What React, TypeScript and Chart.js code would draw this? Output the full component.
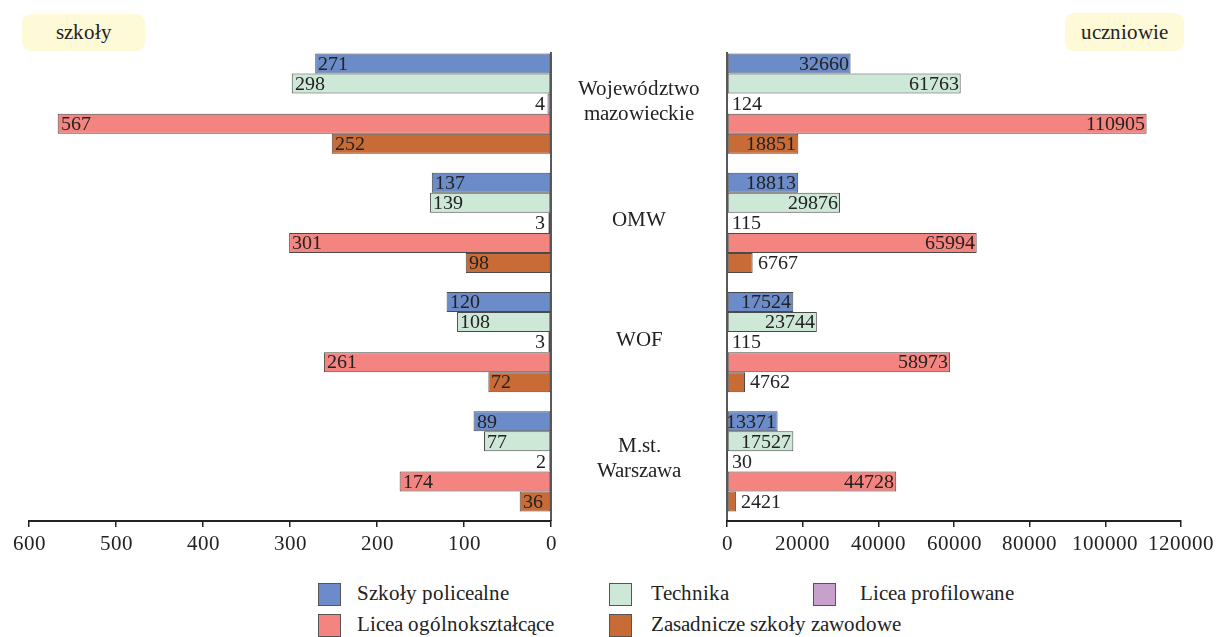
import React, { useEffect, useRef } from "react";
import { Chart, registerables } from "chart.js";

Chart.register(...registerables);

// ---- data ----
const categories: string[][] = [["Województwo", "mazowieckie"], ["OMW"], ["WOF"], ["M.st.", "Warszawa"]];
const seriesNames = [
  "Szkoły policealne",
  "Technika",
  "Licea profilowane",
  "Licea ogólnokształcące",
  "Zasadnicze szkoły zawodowe",
];
const seriesColors = ["#6b8cc9", "#cde8d7", "#c8a0cc", "#f4847f", "#c96b37"];

const szkolyPolicealne = [271, 137, 120, 89];
const szkolyTechnika = [298, 139, 108, 77];
const szkolyLiceaProfilowane = [4, 3, 3, 2];
const szkolyLiceaOgolne = [567, 301, 261, 174];
const szkolyZasadnicze = [252, 98, 72, 36];

const uczniowiePolicealne = [32660, 18813, 17524, 13371];
const uczniowieTechnika = [61763, 29876, 23744, 17527];
const uczniowieLiceaProfilowane = [124, 115, 115, 30];
const uczniowieLiceaOgolne = [110905, 65994, 58973, 44728];
const uczniowieZasadnicze = [18851, 6767, 4762, 2421];

const szkolyMax = 600;
const szkolyStep = 100;
const uczniowieMax = 120000;
const uczniowieStep = 20000;

const leftTitle = "szkoły";
const rightTitle = "uczniowie";

// ---- styles ----
const FONT_FACE_CSS = `@font-face { font-family: "RefSerif"; src: local("Liberation Serif"), local("LiberationSerif"), local("LiberationSerif-Regular"), local("Times New Roman"), local("Tinos"); font-display: swap; }`;
const FAMILY = '"RefSerif", "Liberation Serif", "Times New Roman", Tinos, serif';
const TEXT = "#222222";
const CAT_PCT = 0.8386;

function makeValueLabels(side: "left" | "right") {
  return {
    id: "valueLabels_" + side,
    afterDatasetsDraw(chart: any) {
      const ctx = chart.ctx;
      ctx.save();
      ctx.font = `20px ${FAMILY}`;
      ctx.fillStyle = TEXT;
      ctx.textBaseline = "middle";
      chart.data.datasets.forEach((ds: any, di: number) => {
        const meta = chart.getDatasetMeta(di);
        meta.data.forEach((bar: any, i: number) => {
          const txt = String(ds.data[i]);
          const w = ctx.measureText(txt).width;
          const bw = Math.abs(bar.x - bar.base);
          const inside = bw >= w - 3;
          const y = bar.y + 1;
          if (side === "left") {
            if (inside) {
              ctx.textAlign = "left";
              ctx.fillText(txt, bar.x + 3, y);
            } else {
              ctx.textAlign = "right";
              ctx.fillText(txt, bar.x - 3, y);
            }
          } else {
            if (inside) {
              ctx.textAlign = "right";
              ctx.fillText(txt, bar.x - 2, y);
            } else {
              ctx.textAlign = "left";
              ctx.fillText(txt, bar.x + 5, y);
            }
          }
        });
      });
      ctx.restore();
    },
  };
}

const axisLine = {
  id: "axisLine",
  afterDatasetsDraw(chart: any) {
    const ctx = chart.ctx;
    const x = chart.scales.x.getPixelForValue(0);
    ctx.save();
    ctx.strokeStyle = TEXT;
    ctx.lineWidth = 1.5;
    ctx.beginPath();
    ctx.moveTo(x, chart.chartArea.top + 8);
    ctx.lineTo(x, chart.chartArea.bottom);
    ctx.stroke();
    ctx.restore();
  },
};

const centerLabels = {
  id: "centerLabels",
  afterDraw(chart: any) {
    const ctx = chart.ctx;
    const yScale = chart.scales.y;
    const cx = chart.chartArea.left - 88;
    ctx.save();
    ctx.font = `21px ${FAMILY}`;
    ctx.fillStyle = TEXT;
    ctx.textAlign = "center";
    ctx.textBaseline = "middle";
    (chart.data.labels as any[]).forEach((lab: any, i: number) => {
      const lines: string[] = Array.isArray(lab) ? lab : [lab];
      const y0 = yScale.getPixelForValue(i);
      const lh = 25;
      const start = y0 - ((lines.length - 1) * lh) / 2;
      lines.forEach((ln, k) => ctx.fillText(ln, cx, start + k * lh - 2));
    });
    ctx.restore();
  },
};

function buildDatasets(values: number[][]) {
  return values.map((vals, k) => ({
    label: seriesNames[k],
    data: vals,
    backgroundColor: seriesColors[k],
    borderColor: "#4a4a4a",
    borderWidth: 1,
    borderSkipped: false,
    barPercentage: 1,
    categoryPercentage: CAT_PCT,
  }));
}

function xAxis(max: number, step: number, reverse: boolean) {
  return {
    type: "linear",
    min: 0,
    max,
    reverse,
    afterFit(scale: any) {
      scale.height = 59;
    },
    ticks: {
      stepSize: step,
      color: TEXT,
      font: { family: FAMILY, size: 21 },
      padding: 5,
      maxRotation: 0,
      autoSkip: false,
      callback: (v: any) => String(v),
    },
    grid: {
      display: true,
      drawOnChartArea: false,
      drawTicks: true,
      tickLength: 6,
      color: TEXT,
      lineWidth: 1.5,
    },
    border: { display: true, color: TEXT, width: 2 },
  };
}

export default function App() {
  const leftRef = useRef<HTMLCanvasElement>(null);
  const rightRef = useRef<HTMLCanvasElement>(null);

  useEffect(() => {
    const left = new Chart(leftRef.current as HTMLCanvasElement, {
      type: "bar",
      data: {
        labels: categories as any,
        datasets: buildDatasets([
          szkolyPolicealne,
          szkolyTechnika,
          szkolyLiceaProfilowane,
          szkolyLiceaOgolne,
          szkolyZasadnicze,
        ]) as any,
      },
      options: {
        indexAxis: "y",
        responsive: false,
        animation: false,
        devicePixelRatio: 1,
        layout: { padding: { left: 29, right: 49, top: 44, bottom: 0 } },
        plugins: { legend: { display: false }, tooltip: { enabled: false } },
        scales: {
          x: xAxis(szkolyMax, szkolyStep, true) as any,
          y: { display: false },
        },
      },
      plugins: [axisLine, makeValueLabels("left")],
    });

    const right = new Chart(rightRef.current as HTMLCanvasElement, {
      type: "bar",
      data: {
        labels: categories as any,
        datasets: buildDatasets([
          uczniowiePolicealne,
          uczniowieTechnika,
          uczniowieLiceaProfilowane,
          uczniowieLiceaOgolne,
          uczniowieZasadnicze,
        ]) as any,
      },
      options: {
        indexAxis: "y",
        responsive: false,
        animation: false,
        devicePixelRatio: 1,
        layout: { padding: { left: 176, right: 31, top: 44, bottom: 0 } },
        plugins: { legend: { display: false }, tooltip: { enabled: false } },
        scales: {
          x: xAxis(uczniowieMax, uczniowieStep, false) as any,
          y: { display: false },
        },
      },
      plugins: [axisLine, makeValueLabels("right"), centerLabels],
    });

    let alive = true;
    const fonts: any = (document as any).fonts;
    if (fonts && fonts.load) {
      Promise.all([
        fonts.load('20px "RefSerif"', "Województwo 0123456789"),
        fonts.load('21px "RefSerif"', "Województwo 0123456789"),
        fonts.load('21px "Liberation Serif"', "Województwo 0123456789"),
      ])
        .then(() => {
          if (alive) {
            left.update("none");
            right.update("none");
          }
        })
        .catch(() => {});
    }

    return () => {
      alive = false;
      left.destroy();
      right.destroy();
    };
  }, []);

  const textStyle: React.CSSProperties = {
    fontFamily: FAMILY,
    fontSize: 21,
    color: TEXT,
  };

  const badge = (text: string, l: number, t: number, w: number, h: number) => (
    <div
      style={{
        ...textStyle,
        position: "absolute",
        left: l,
        top: t,
        width: w,
        height: h,
        background: "#fef9d7",
        borderRadius: 9,
        display: "flex",
        alignItems: "center",
        justifyContent: "center",
      }}
    >
      {text}
    </div>
  );

  const legendPos = [
    { box: 318, text: 357, top: 583 },
    { box: 609, text: 651, top: 583 },
    { box: 813, text: 860, top: 583 },
    { box: 318, text: 357, top: 614 },
    { box: 609, text: 651, top: 614 },
  ];

  return (
    <div
      style={{
        position: "absolute",
        left: 0,
        top: 0,
        width: 1219,
        height: 637,
        background: "#ffffff",
        overflow: "hidden",
      }}
    >
      <style>{FONT_FACE_CSS}</style>
      {badge(leftTitle, 22, 14, 123, 37)}
      {badge(rightTitle, 1065, 13, 119, 38)}
      <canvas
        ref={rightRef}
        width={668}
        height={580}
        style={{ position: "absolute", left: 551, top: 0, width: 668, height: 580 }}
      />
      <canvas
        ref={leftRef}
        width={600}
        height={580}
        style={{ position: "absolute", left: 0, top: 0, width: 600, height: 580 }}
      />
      {seriesNames.map((name, k) => (
        <React.Fragment key={name}>
          <div
            style={{
              position: "absolute",
              left: legendPos[k].box,
              top: legendPos[k].top,
              width: 21,
              height: 21,
              background: seriesColors[k],
              border: "1px solid #555",
            }}
          />
          <div
            style={{
              ...textStyle,
              position: "absolute",
              left: legendPos[k].text,
              top: legendPos[k].top - 1,
              height: 23,
              lineHeight: "23px",
              whiteSpace: "nowrap",
            }}
          >
            {name}
          </div>
        </React.Fragment>
      ))}
    </div>
  );
}
